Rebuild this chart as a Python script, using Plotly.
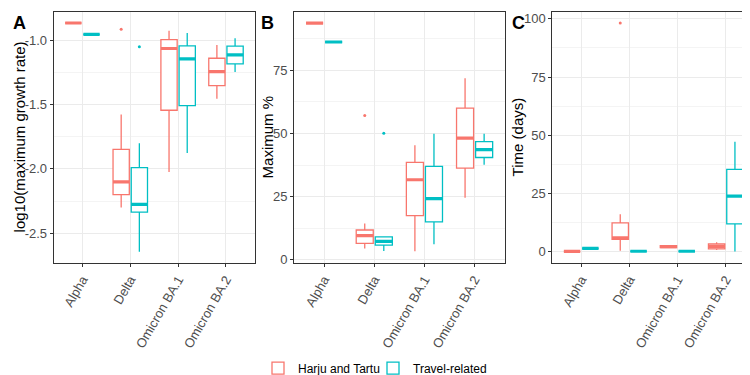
import plotly.graph_objects as go

CATEGORIES = ["Alpha", "Delta", "Omicron BA.1", "Omicron BA.2"]
GROUPS = ["Harju and Tartu", "Travel-related"]
COLORS = ["#F8766D", "#00BFC4"]

# Panel A: log10(maximum growth rate) box statistics per category
A_HARJU = dict(low=[-0.866, -2.30, -2.024, -1.455], q1=[-0.866, -2.199, -1.544, -1.353],
               med=[-0.866, -2.10, -1.064, -1.244], q3=[-0.866, -1.848, -0.995, -1.14],
               high=[-0.866, -1.577, -0.927, -1.036])
A_TRAVEL = dict(low=[-0.954, -2.643, -1.876, -1.247], q1=[-0.954, -2.336, -1.508, -1.183],
                med=[-0.954, -2.275, -1.145, -1.114], q3=[-0.954, -1.99, -1.043, -1.046],
                high=[-0.954, -1.80, -0.944, -0.985])
A_OUT_HARJU = {"Delta": [-0.914]}
A_OUT_TRAVEL = {"Delta": [-1.051]}

# Panel B: Maximum %
B_HARJU = dict(low=[93.7, 4.5, 3.4, 24.6], q1=[93.7, 6.5, 17.5, 36.3],
               med=[93.7, 9.6, 31.7, 48.2], q3=[93.7, 11.8, 38.6, 60.0],
               high=[93.7, 14.4, 45.3, 71.9])
B_TRAVEL = dict(low=[86.2, 3.5, 6.2, 37.6], q1=[86.2, 5.8, 15.0, 40.5],
                med=[86.2, 7.3, 24.2, 43.6], q3=[86.2, 9.1, 37.0, 46.8],
                high=[86.2, 9.1, 49.9, 49.9])
B_OUT_HARJU = {"Delta": [57.1]}
B_OUT_TRAVEL = {"Delta": [50.1]}

# Panel C: Time (days)
C_HARJU = dict(low=[0.0, 0.3, 1.7, 0.6], q1=[0.0, 5.2, 1.7, 1.1],
               med=[0.0, 5.9, 2.1, 2.1], q3=[0.0, 12.3, 2.5, 3.2],
               high=[0.0, 16.0, 2.5, 4.0])
C_TRAVEL = dict(low=[1.3, 0.1, 0.1, 0.0], q1=[1.3, 0.1, 0.1, 11.9],
                med=[1.3, 0.1, 0.1, 23.8], q3=[1.3, 0.1, 0.1, 35.3],
                high=[1.3, 0.1, 0.1, 47.2])
C_OUT_HARJU = {"Delta": [98.2]}
C_OUT_TRAVEL = {}

PANELS = [
    ("A", "log10(maximum growth rate)", [A_HARJU, A_TRAVEL], [A_OUT_HARJU, A_OUT_TRAVEL],
     [-2.73, -0.78], [-2.5, -2.0, -1.5, -1.0], ["-2.5", "-2.0", "-1.5", "-1.0"], 0.25),
    ("B", "Maximum %", [B_HARJU, B_TRAVEL], [B_OUT_HARJU, B_OUT_TRAVEL],
     [-1.2, 98.1], [0, 25, 50, 75], ["0", "25", "50", "75"], 12.5),
    ("C", "Time (days)", [C_HARJU, C_TRAVEL], [C_OUT_HARJU, C_OUT_TRAVEL],
     [-4.9, 103.0], [0, 25, 50, 75, 100], ["0", "25", "50", "75", "100"], 12.5),
]

W, H = 750, 375
X_DOMAINS = [[45.7 / W, 246.7 / W], [286 / W, 496.7 / W], [544.3 / W, 746.7 / W]]
Y_DOMAIN = [1 - 259 / H, 1 - 4 / H]
TITLE_X = [11, 259, 509]
LETTER_X = [3, 251, 502]
DODGE = 0.19
BOX_W = 0.34
FONT = "Liberation Sans, Arial"

fig = go.Figure()
cat_idx = list(range(len(CATEGORIES)))

for p, (letter, ytitle, stats, outs, yrange, ytv, ytt, minor_dt) in enumerate(PANELS):
    xa = "x" if p == 0 else f"x{p+1}"
    ya = "y" if p == 0 else f"y{p+1}"
    for g in range(2):
        off = -DODGE if g == 0 else DODGE
        s = stats[g]
        xs = [i + off for i in cat_idx]
        fig.add_trace(go.Box(
            x=xs, q1=s["q1"], median=s["med"], q3=s["q3"],
            lowerfence=s["low"], upperfence=s["high"],
            width=BOX_W, whiskerwidth=0,
            line=dict(color=COLORS[g], width=1.3), fillcolor="white",
            name=GROUPS[g], legendgroup=GROUPS[g], showlegend=(p == 0),
            boxpoints=False, xaxis=xa, yaxis=ya, hoverinfo="skip",
        ))
        # thick median lines
        mx, my = [], []
        for i, m in zip(xs, s["med"]):
            mx += [i - BOX_W / 2, i + BOX_W / 2, None]
            my += [m, m, None]
        fig.add_trace(go.Scatter(x=mx, y=my, mode="lines",
                                 line=dict(color=COLORS[g], width=3.2),
                                 showlegend=False, xaxis=xa, yaxis=ya, hoverinfo="skip"))
        # outliers
        ox, oy = [], []
        for cat, vals in outs[g].items():
            for v in vals:
                ox.append(CATEGORIES.index(cat) + off)
                oy.append(v)
        if ox:
            fig.add_trace(go.Scatter(x=ox, y=oy, mode="markers",
                                     marker=dict(color=COLORS[g], size=3),
                                     showlegend=False, xaxis=xa, yaxis=ya, hoverinfo="skip"))

    axis_common = dict(showline=True, mirror=True, linecolor="#333333", linewidth=1,
                       ticks="outside", ticklen=3, tickcolor="#333333",
                       gridcolor="#EBEBEB", gridwidth=1, zeroline=False,
                       tickfont=dict(family=FONT, size=13, color="#4D4D4D"),
                       automargin=False)
    xkey = "xaxis" if p == 0 else f"xaxis{p+1}"
    ykey = "yaxis" if p == 0 else f"yaxis{p+1}"
    fig.layout[xkey] = dict(axis_common, domain=X_DOMAINS[p], range=[-0.6, 3.6],
                            tickvals=cat_idx, ticktext=CATEGORIES, tickangle=-60,
                            anchor=ya)
    fig.layout[ykey] = dict(axis_common, domain=Y_DOMAIN, range=yrange,
                            tickvals=ytv, ticktext=ytt, anchor=xa,
                            minor=dict(tickvals=[v + minor_dt for v in ytv] + [ytv[0] - minor_dt],
                                       showgrid=True, gridcolor="#F4F4F4", gridwidth=0.6,
                                       ticks=""))
    fig.add_annotation(text=f"<b>{letter}</b>", x=LETTER_X[p] / W, y=1 - 3 / H,
                       xref="paper", yref="paper", xanchor="left", yanchor="top",
                       showarrow=False,
                       font=dict(family=FONT, size=18, color="black"))
    fig.add_annotation(text=ytitle, x=TITLE_X[p] / W, y=(Y_DOMAIN[0] + Y_DOMAIN[1]) / 2,
                       xref="paper", yref="paper", xanchor="center", yanchor="middle",
                       textangle=-90, showarrow=False,
                       font=dict(family=FONT, size=15, color="black"))

fig.update_layout(
    width=W, height=H,
    margin=dict(l=0, r=0, t=0, b=0),
    paper_bgcolor="white", plot_bgcolor="white",
    font=dict(family=FONT, size=12, color="black"),
    legend=dict(orientation="h", x=0.5 - 10 / W, xanchor="center", y=(H - 366) / H,
                yanchor="middle", font=dict(size=12), entrywidth=70, entrywidthmode="pixels",
                bgcolor="rgba(0,0,0,0)"),
)

fig.write_html("out.html")
